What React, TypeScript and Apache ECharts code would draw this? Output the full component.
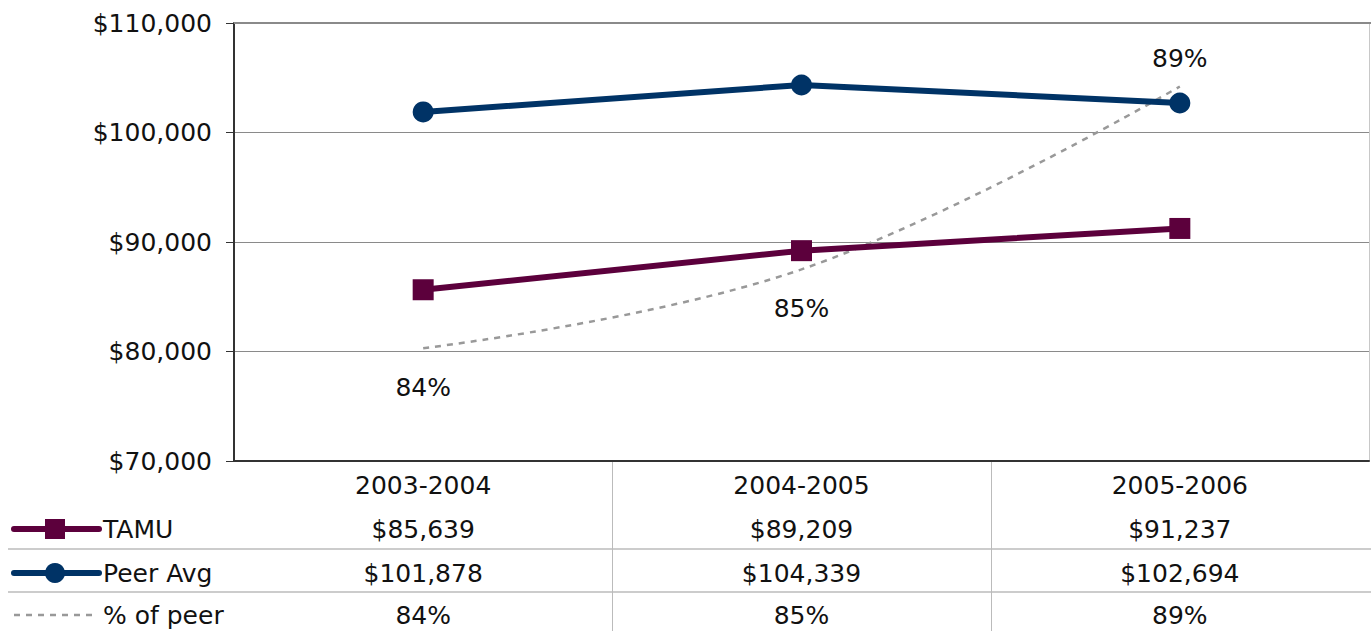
import React, { useEffect, useRef } from "react";
import * as echarts from "echarts";

const categories = ["2003-2004", "2004-2005", "2005-2006"];
const tamu = [85639, 89209, 91237];
const peerAvg = [101878, 104339, 102694];
const pctOfPeer = [0.8406, 0.855, 0.8884];
const pctLabels = ["84%", "85%", "89%"];
const seriesNames = ["TAMU", "Peer Avg", "% of peer"];

const FONT = "Verdana, 'DejaVu Sans', sans-serif";
const TEXT = "#111";
const MAROON = "#5c003c";
const NAVY = "#003366";
const DOT = "#999999";

const money = (n: number) => "$" + n.toLocaleString("en-US");

export default function App() {
  const ref = useRef<HTMLDivElement>(null);
  useEffect(() => {
    document.body.style.margin = "0";
    if (!ref.current) return;
    const chart = echarts.init(ref.current, undefined, { renderer: "svg" });
    const gridLeft = 234;
    const gridTop = 23;
    const gridBottom = 170;
    const W = 1371;
    const H = 631;
    const axisY = H - gridBottom;
    chart.setOption({
      animation: false,
      textStyle: { fontFamily: FONT },
      grid: { left: gridLeft, right: 2, top: gridTop, bottom: gridBottom, containLabel: false },
      xAxis: {
        type: "category",
        data: categories,
        boundaryGap: true,
        axisLine: { show: true, lineStyle: { color: "#333", width: 2 } },
        axisTick: { show: false },
        axisLabel: { color: TEXT, fontSize: 25, margin: 12, fontFamily: FONT },
        splitLine: { show: false },
      },
      yAxis: [
        {
          type: "value",
          min: 70000,
          max: 110000,
          interval: 10000,
          axisLine: { show: true, lineStyle: { color: "#333", width: 2 } },
          axisTick: { show: true, length: 8, lineStyle: { color: "#333", width: 1 } },
          axisLabel: {
            color: TEXT,
            fontSize: 25,
            margin: 22,
            fontFamily: FONT,
            formatter: (v: number) => money(v),
          },
          splitLine: { show: true, lineStyle: { color: "#8a8a8a", width: 1 } },
        },
        {
          type: "value",
          min: 0.82,
          max: 0.9,
          position: "right",
          axisLine: { show: true, lineStyle: { color: "#c8c8c8", width: 1 } },
          axisTick: { show: false },
          axisLabel: { show: false },
          splitLine: { show: false },
        },
      ],
      series: [
        {
          name: seriesNames[0],
          type: "line",
          data: tamu,
          symbol: "rect",
          symbolSize: 21,
          lineStyle: { color: MAROON, width: 6 },
          itemStyle: { color: MAROON },
          z: 3,
        },
        {
          name: seriesNames[1],
          type: "line",
          data: peerAvg,
          symbol: "circle",
          symbolSize: 21,
          lineStyle: { color: NAVY, width: 6 },
          itemStyle: { color: NAVY },
          z: 3,
        },
        {
          name: seriesNames[2],
          type: "line",
          yAxisIndex: 1,
          smooth: 0.4,
          symbol: "circle",
          symbolSize: 1,
          showSymbol: true,
          showAllSymbol: true,
          itemStyle: { color: "rgba(0,0,0,0)", borderWidth: 0 },
          lineStyle: { color: DOT, width: 2.5, type: [6, 6] },
          data: pctOfPeer.map((v, i) => ({
            value: v,
            label: {
              show: true,
              position: i === pctOfPeer.length - 1 ? "top" : "bottom",
              distance: i === pctOfPeer.length - 1 ? 15 : 26,
              formatter: pctLabels[i],
              color: TEXT,
              fontSize: 25,
              fontFamily: FONT,
            },
          })),
          z: 2,
        },
      ],
    });

    const xs = categories.map((c) => chart.convertToPixel({ xAxisIndex: 0 }, c) as number);
    const rowYs = [529, 573, 615];
    const rowLines = [549, 592];
    const rows = [tamu.map(money), peerAvg.map(money), pctLabels];
    const graphics: any[] = [];
    graphics.push({
      type: "line",
      shape: { x1: gridLeft, y1: gridTop, x2: W, y2: gridTop },
      style: { stroke: "#8a8a8a", lineWidth: 2 },
      z: 1,
    });
    rowLines.forEach((y) =>
      graphics.push({
        type: "line",
        shape: { x1: 8, y1: y, x2: W, y2: y },
        style: { stroke: "#999", lineWidth: 1 },
      })
    );
    for (let i = 0; i < xs.length - 1; i++) {
      const bx = Math.round((xs[i] + xs[i + 1]) / 2) + 0.5;
      graphics.push({
        type: "line",
        shape: { x1: bx, y1: axisY + 1, x2: bx, y2: H },
        style: { stroke: "#bbb", lineWidth: 1 },
      });
    }
    rows.forEach((vals, r) =>
      vals.forEach((t, i) =>
        graphics.push({
          type: "text",
          x: xs[i],
          y: rowYs[r],
          style: {
            text: t,
            fill: TEXT,
            font: `25px ${FONT}`,
            textAlign: "center",
            textVerticalAlign: "middle",
          },
        })
      )
    );
    const keyX1 = 14;
    const keyX2 = 99;
    const keyMid = 55;
    graphics.push({
      type: "line",
      shape: { x1: keyX1, y1: rowYs[0], x2: keyX2, y2: rowYs[0] },
      style: { stroke: MAROON, lineWidth: 6, lineCap: "round" },
    });
    graphics.push({
      type: "rect",
      shape: { x: keyMid - 10, y: rowYs[0] - 10, width: 20, height: 20 },
      style: { fill: MAROON },
    });
    graphics.push({
      type: "line",
      shape: { x1: keyX1, y1: rowYs[1], x2: keyX2, y2: rowYs[1] },
      style: { stroke: NAVY, lineWidth: 6, lineCap: "round" },
    });
    graphics.push({
      type: "circle",
      shape: { cx: keyMid, cy: rowYs[1], r: 10 },
      style: { fill: NAVY },
    });
    graphics.push({
      type: "line",
      shape: { x1: keyX1, y1: rowYs[2], x2: 97, y2: rowYs[2] },
      style: { stroke: DOT, lineWidth: 2.5, lineDash: [6, 6] },
    });
    seriesNames.forEach((n, r) =>
      graphics.push({
        type: "text",
        x: 103,
        y: rowYs[r],
        style: {
          text: n,
          fill: TEXT,
          font: `25px ${FONT}`,
          textAlign: "left",
          textVerticalAlign: "middle",
        },
      })
    );
    chart.setOption({ graphic: graphics });

    return () => chart.dispose();
  }, []);
  return <div ref={ref} style={{ width: 1371, height: 631 }} />;
}
